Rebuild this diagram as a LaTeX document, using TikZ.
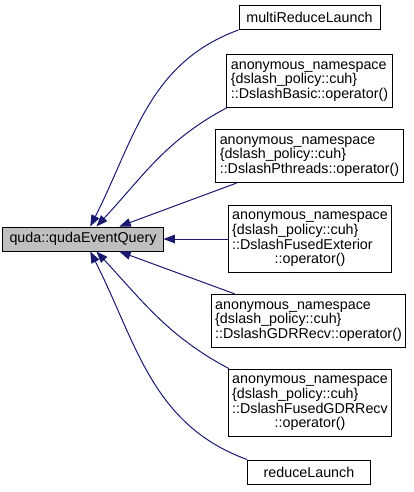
\documentclass[tikz,border=0pt]{standalone}
\usepackage{fontspec}
\setmainfont{Liberation Sans}
\usetikzlibrary{arrows.meta}

\definecolor{callblue}{RGB}{25,25,112}
\tikzset{
  fn/.style={draw=black, fill=white, line width=0.7pt, inner xsep=2.8pt,
    inner ysep=3.5pt, minimum height=16.8pt, font=\fontsize{10}{12}\selectfont},
  focus/.style={fn, fill=black!25},
  call/.style={color=callblue, line width=0.7pt},
}
\newcommand{\lines}[1]{\begin{tabular}{@{}l@{}}#1\end{tabular}}
\newcommand{\midline}[1]{\multicolumn{1}{@{}c@{}}{#1}}
\renewcommand{\arraystretch}{0.82}

\begin{document}
\begin{tikzpicture}[x=0.7pt, y=-0.7pt, ->, >={Triangle[length=8pt,width=6pt]}]
    \useasboundingbox (0,0) rectangle (413,492);

    \node[focus, minimum width=112pt] (main) at (83,239) {quda::qudaEventQuery};

    \node[fn, minimum width=98.7pt] (mrl) at (309.5,17.5) {multiReduceLaunch};
    \node[fn] (basic) at (309.5,81)
      {\lines{anonymous\_namespace\\\{dslash\_policy::cuh\}\\::DslashBasic::operator()}};
    \node[fn] (pthreads) at (309.5,156)
      {\lines{anonymous\_namespace\\\{dslash\_policy::cuh\}\\::DslashPthreads::operator()}};
    \node[fn] (fusedext) at (310,239)
      {\lines{anonymous\_namespace\\\{dslash\_policy::cuh\}\\::DslashFusedExterior\\\midline{::operator()}}};
    \node[fn] (gdr) at (308.5,321)
      {\lines{anonymous\_namespace\\\{dslash\_policy::cuh\}\\::DslashGDRRecv::operator()}};
    \node[fn] (fusedgdr) at (310,403)
      {\lines{anonymous\_namespace\\\{dslash\_policy::cuh\}\\::DslashFusedGDRRecv\\\midline{::operator()}}};
    \node[fn, minimum width=86pt] (rl) at (309,472) {reduceLaunch};

    \path[call] (mrl.south west) edge [out=200, in=63] (main.60)
          (basic.198) edge [out=208, in=47] (main.43)
          (pthreads) edge (main.19)
          (fusedext) edge (main)
          (gdr) edge (main.-19)
          (fusedgdr.157) edge [out=152, in=-47] (main.-43)
          (rl.north west) edge [out=160, in=-63] (main.-60);
\end{tikzpicture}
\end{document}
